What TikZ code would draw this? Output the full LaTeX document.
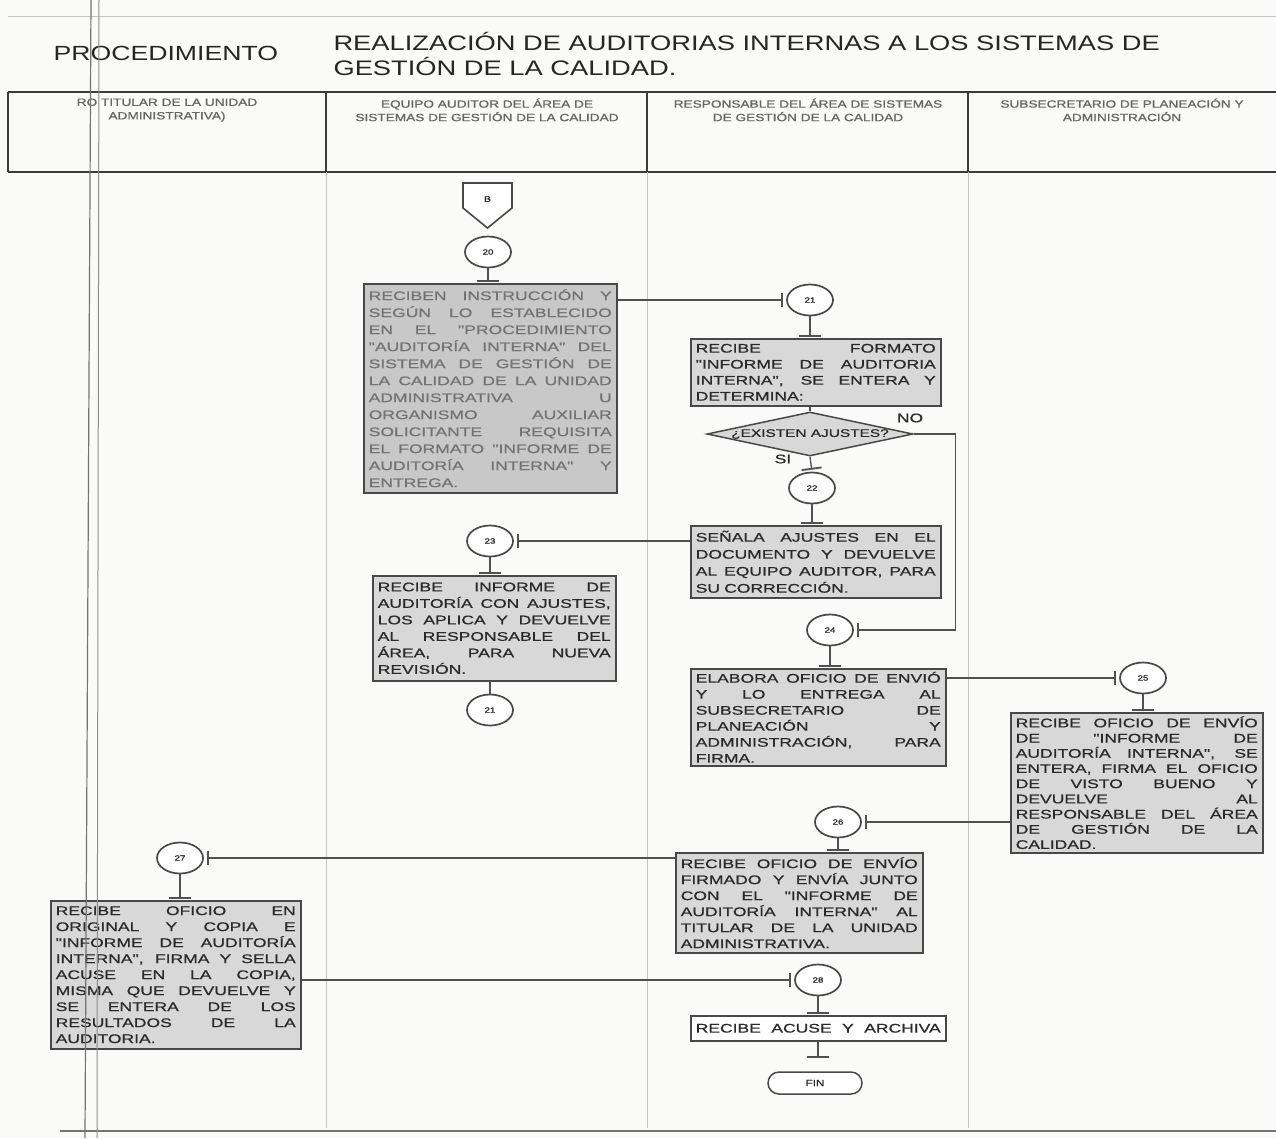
\documentclass[tikz,border=0pt]{standalone}
\usepackage{fontspec}
\setmainfont{Liberation Sans}[FakeStretch=1.3]
\newfontfamily\boxface{Liberation Sans}[FakeStretch=1.4,FakeBold=0.8]
\newfontfamily\headface{Liberation Sans}[FakeStretch=1.3,FakeBold=1]
\usetikzlibrary{arrows.meta,shapes.geometric}

\definecolor{paper}{HTML}{FAFAF8}
\definecolor{boxfill}{HTML}{D8D8D8}
\definecolor{boxfilldark}{HTML}{C8C8C8}
\definecolor{boxline}{HTML}{484848}
\definecolor{boxtext}{HTML}{2A2A2A}
\definecolor{linecol}{HTML}{505050}
\definecolor{rule}{HTML}{3C3C3C}
\definecolor{faint}{HTML}{C4C4C4}

% one justified line of a step box (font glue, so the spaces can stretch)
\newcommand{\jl}[1]{\makebox[\linewidth][s]{\spaceskip=0pt\xspaceskip=0pt\relax #1}\\}
% step box type, with a chosen line pitch
\newcommand{\boxfntat}[1]{\boxface\fontsize{12.5}{#1}\selectfont}

\begin{document}
\begin{tikzpicture}[x=1pt,y=-1pt,
  proc/.style={draw=boxline, fill=boxfill, line width=1.5pt, inner xsep=5pt,
    inner ysep=1pt, anchor=north west, font={\boxfntat{16}}, text=boxtext, align=left},
  ring/.style={ellipse, draw=boxline, line width=1.7pt, fill=white,
    minimum width=46pt, minimum height=31pt, inner sep=0pt,
    font={\headface\fontsize{7.5}{8}\selectfont}, text=boxtext},
  link/.style={draw=linecol, line width=1.3pt, -{Bar[width=14pt,line width=1.8pt]}, shorten >=3pt},
  stem/.style={draw=linecol, line width=1.3pt, -{Bar[width=22pt,line width=1.8pt]}, shorten >=1pt},
  plainlink/.style={draw=linecol, line width=1.3pt},
  lanehead/.style={font={\headface\fontsize{10.5}{13.5}\selectfont}, text=black!60, align=center, anchor=north}
]
% page
\fill[paper] (0,0) rectangle (1276,1138);
\useasboundingbox (0,0) rectangle (1276,1138);

% title band
\draw[faint, line width=0.8pt] (8,16) -- (1276,16);
\node[anchor=base west, font=\fontsize{20.5}{22}\selectfont, text=black!85] (proc) at (50,60) {PROCEDIMIENTO};
\node[anchor=base west, font=\fontsize{21}{25}\selectfont, text=black!85, align=left] (title) at (330,50)
  {REALIZACIÓN DE AUDITORIAS INTERNAS A LOS SISTEMAS DE};
\node[anchor=base west, font=\fontsize{21}{25}\selectfont, text=black!85] (title2) at (330,75)
  {GESTIÓN DE LA CALIDAD.};

% lane header row
\draw[rule, line width=1.8pt] (8,92) -- (1276,92);
\draw[rule, line width=1.8pt] (8,172) -- (1276,172);
\draw[rule, line width=1.5pt] (8,92) -- (8,172);
\draw[rule, line width=1.5pt] (326,92) -- (326,172);
\draw[rule, line width=1.5pt] (647,92) -- (647,172);
\draw[rule, line width=1.5pt] (968,92) -- (968,172);
\node[lanehead] (h1) at (167,95) {RO TITULAR DE LA UNIDAD\\ADMINISTRATIVA)};
\node[lanehead] (h2) at (487,95) {EQUIPO AUDITOR DEL ÁREA DE\\SISTEMAS DE GESTIÓN DE LA CALIDAD};
\node[lanehead] (h3) at (808,95) {RESPONSABLE DEL ÁREA DE SISTEMAS\\DE GESTIÓN DE LA CALIDAD};
\node[lanehead] (h4) at (1122,95) {SUBSECRETARIO DE PLANEACIÓN Y\\ADMINISTRACIÓN};

% lane dividers in the body
\draw[faint, line width=0.8pt] (326,172) -- (326,1128);
\draw[faint, line width=0.8pt] (647,172) -- (647,1128);
\draw[faint, line width=0.8pt] (968,172) -- (968,1128);
\draw[black!55, line width=2pt] (60,1131) -- (1276,1131);

% off-page connector B
\draw[boxline, line width=1.6pt, fill=white] (463,183) -- (512,183) -- (512,208) -- (487.5,228) -- (463,208) -- cycle;
\node[font={\headface\fontsize{8}{9}\selectfont}, text=boxtext] (B) at (487.5,199) {B};

% step 20
\node[ring] (c20) at (488,252) {20};
\node[proc, fill=boxfilldark, text=black!55, font={\boxfntat{17}},
  minimum width=253pt, minimum height=209pt, text width=243pt] (b20) at (363,283) {%
\jl{RECIBEN INSTRUCCIÓN Y}
\jl{SEGÚN LO ESTABLECIDO}
\jl{EN EL "PROCEDIMIENTO}
\jl{"AUDITORÍA INTERNA" DEL}
\jl{SISTEMA DE GESTIÓN DE}
\jl{LA CALIDAD DE LA UNIDAD}
\jl{ADMINISTRATIVA U}
\jl{ORGANISMO AUXILIAR}
\jl{SOLICITANTE REQUISITA}
\jl{EL FORMATO "INFORME DE}
\jl{AUDITORÍA INTERNA" Y}
ENTREGA.};
\draw[stem] (c20.south) -- (b20.north -| c20);

% step 21
\node[ring] (c21) at (810,300) {21};
\node[proc, minimum width=250pt, minimum height=67pt, text width=240pt] (b21) at (690,338) {%
\jl{RECIBE FORMATO}
\jl{"INFORME DE AUDITORIA}
\jl{INTERNA", SE ENTERA Y}
DETERMINA:};
\draw[link] (b20.east |- c21) -- (c21.west);
\draw[stem] (c21.south) -- (b21.north -| c21);

% decision
\node[diamond, draw=boxline, line width=1.5pt, fill=boxfill, aspect=4.7, inner sep=0pt,
  minimum width=206pt, minimum height=44pt, font={\boxface\fontsize{11}{12}\selectfont}, text=boxtext] (dec) at (810,434) {¿EXISTEN AJUSTES?};
\draw[plainlink] (b21.south -| dec) -- (dec.north);
\node[font={\boxfntat{16}}, text=boxtext] (no) at (910,418) {NO};
\node[font={\boxfntat{16}}, text=boxtext] (si) at (783,459) {SI};

% step 22
\node[ring] (c22) at (812,488) {22};
\draw[link, -{Bar[width=20pt,line width=1.8pt]}, shorten >=2pt] (dec.south) -- (c22.north);
\node[proc, minimum width=250pt, minimum height=72pt, text width=240pt, font={\boxfntat{17}}] (b22) at (690,525) {%
\jl{SEÑALA AJUSTES EN EL}
\jl{DOCUMENTO Y DEVUELVE}
\jl{AL EQUIPO AUDITOR, PARA}
SU CORRECCIÓN.};
\draw[stem] (c22.south) -- (b22.north -| c22);

% step 23
\node[ring] (c23) at (490,541) {23};
\draw[link] (b22.west |- c23) -- (c23.east);
\node[proc, minimum width=243pt, minimum height=105pt, text width=233pt, font={\boxfntat{16.5}}] (b23) at (372,575) {%
\jl{RECIBE INFORME DE}
\jl{AUDITORÍA CON AJUSTES,}
\jl{LOS APLICA Y DEVUELVE}
\jl{AL RESPONSABLE DEL}
\jl{ÁREA, PARA NUEVA}
REVISIÓN.};
\draw[stem] (c23.south) -- (b23.north -| c23);
\node[ring] (c21b) at (490,710) {21};
\draw[plainlink] (b23.south -| c21b) -- (c21b.north);

% step 24
\node[ring] (c24) at (830,630) {24};
\draw[link] (dec.east) -- ++(42,0) |- (c24.east);
\node[proc, minimum width=255pt, minimum height=97pt, text width=245pt] (b24) at (690,668) {%
\jl{ELABORA OFICIO DE ENVIÓ}
\jl{Y LO ENTREGA AL}
\jl{SUBSECRETARIO DE}
\jl{PLANEACIÓN Y}
\jl{ADMINISTRACIÓN, PARA}
FIRMA.};
\draw[stem] (c24.south) -- (b24.north -| c24);

% step 25
\node[ring] (c25) at (1143,678) {25};
\draw[link] (b24.east |- c25) -- (c25.west);
\node[proc, minimum width=252pt, minimum height=140pt, text width=242pt, font={\boxfntat{15.2}}] (b25) at (1010,712) {%
\jl{RECIBE OFICIO DE ENVÍO}
\jl{DE "INFORME DE}
\jl{AUDITORÍA INTERNA", SE}
\jl{ENTERA, FIRMA EL OFICIO}
\jl{DE VISTO BUENO Y}
\jl{DEVUELVE AL}
\jl{RESPONSABLE DEL ÁREA}
\jl{DE GESTIÓN DE LA}
CALIDAD.};
\draw[stem] (c25.south) -- (b25.north -| c25);

% step 26
\node[ring] (c26) at (838,822) {26};
\draw[link] (b25.west |- c26) -- (c26.east);
\node[proc, minimum width=247pt, minimum height=100pt, text width=237pt] (b26) at (675,852) {%
\jl{RECIBE OFICIO DE ENVÍO}
\jl{FIRMADO Y ENVÍA JUNTO}
\jl{CON EL "INFORME DE}
\jl{AUDITORÍA INTERNA" AL}
\jl{TITULAR DE LA UNIDAD}
ADMINISTRATIVA.};
\draw[stem] (c26.south) -- (b26.north -| c26);

% step 27
\node[ring] (c27) at (180,858) {27};
\draw[link] (b26.west |- c27) -- (c27.east);
\node[proc, minimum width=250pt, minimum height=148pt, text width=240pt] (b27) at (50,900) {%
\jl{RECIBE OFICIO EN}
\jl{ORIGINAL Y COPIA E}
\jl{"INFORME DE AUDITORÍA}
\jl{INTERNA", FIRMA Y SELLA}
\jl{ACUSE EN LA COPIA,}
\jl{MISMA QUE DEVUELVE Y}
\jl{SE ENTERA DE LOS}
\jl{RESULTADOS DE LA}
AUDITORIA.};
\draw[stem] (c27.south) -- (b27.north -| c27);

% step 28
\node[ring] (c28) at (818,980) {28};
\draw[link] (b27.east |- c28) -- (c28.west);
\node[proc, fill=white, minimum width=255pt, minimum height=25pt, text width=245pt] (b28) at (690,1015) {%
\makebox[\linewidth][s]{\spaceskip=0pt\xspaceskip=0pt\relax RECIBE ACUSE Y ARCHIVA}};
\draw[stem] (c28.south) -- (b28.north -| c28);

% end
\coordinate (endbar) at (818,1058);
\draw[stem, shorten >=0pt] (b28.south -| c28) -- (endbar);
\node[draw=boxline, line width=1.5pt, fill=white, rounded corners=11pt, minimum width=94pt,
  minimum height=22pt, inner sep=0pt, font={\headface\fontsize{9}{10}\selectfont}, text=boxtext] (fin) at (815,1083) {FIN};

% binding marks across the sheet
\draw[black!55, line width=1.2pt] (91,0) -- (85,1138);
\draw[black!45, line width=1.0pt] (99,0) -- (97,1138);
\end{tikzpicture}
\end{document}
